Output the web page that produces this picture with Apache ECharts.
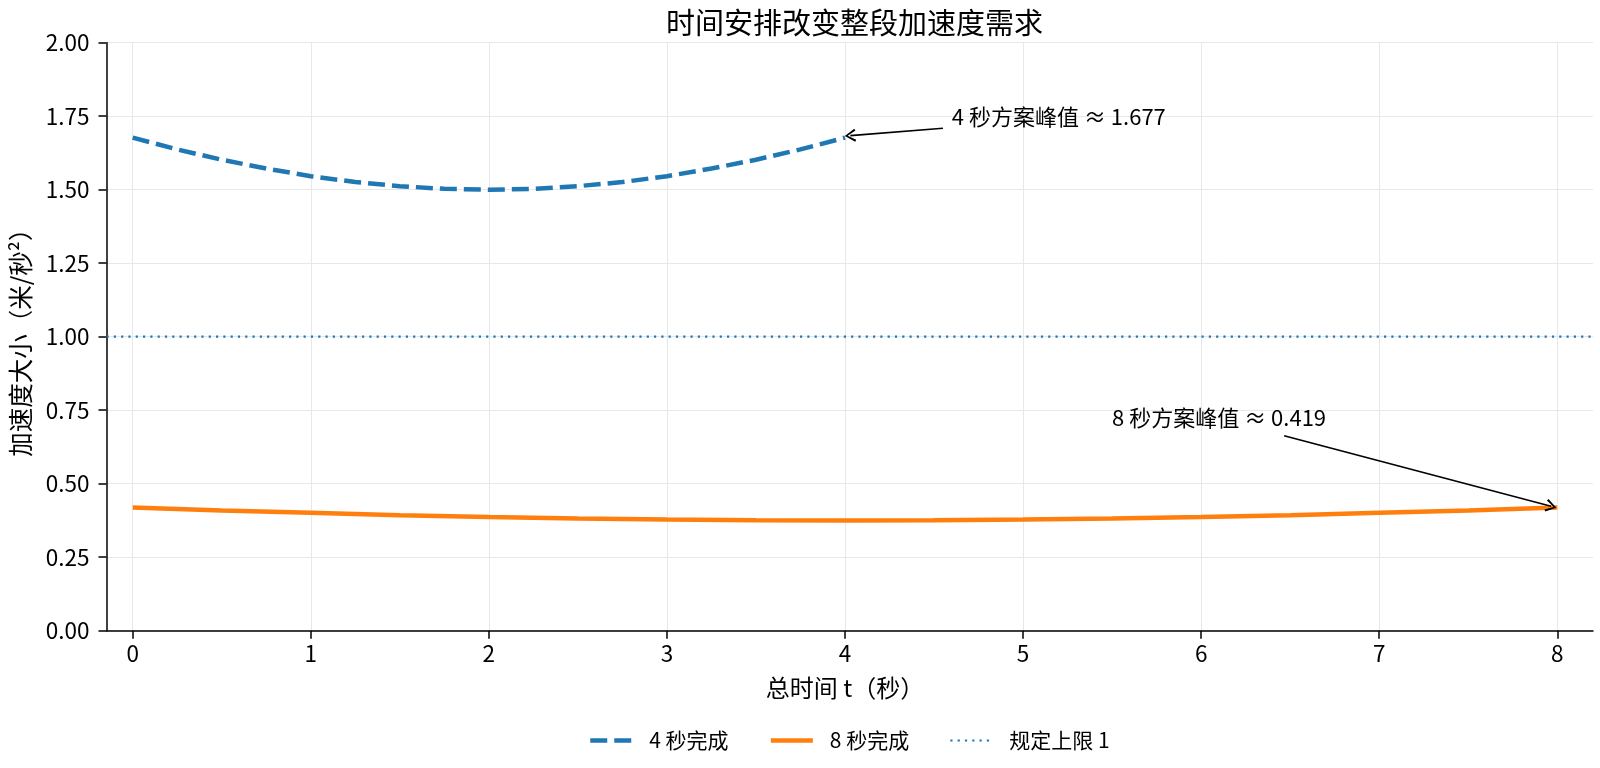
<!DOCTYPE html>
<html lang="zh">
  <head>
    <meta charset="UTF-8" />
    <title>时间安排改变整段加速度需求</title>
    <script src="https://cdn.jsdelivr.net/npm/echarts@6.0.0/dist/echarts.min.js"></script>
    <style>
      body { margin: 0; background: #fff; }
    </style>
  </head>
  <body>
    <div id="main" style="width: 1600px; height: 768px"></div>
    <script type="text/javascript">
      // values
      const t4 = [0, 0.25, 0.5, 0.75, 1, 1.25, 1.5, 1.75, 2, 2.25, 2.5, 2.75, 3, 3.25, 3.5, 3.75, 4];
      const a4 = [1.677, 1.637, 1.602, 1.572, 1.546, 1.526, 1.512, 1.503, 1.5, 1.503, 1.512, 1.526, 1.546, 1.572, 1.602, 1.637, 1.677];
      const t8 = [0, 0.5, 1, 1.5, 2, 2.5, 3, 3.5, 4, 4.5, 5, 5.5, 6, 6.5, 7, 7.5, 8];
      const a8 = [0.419, 0.409, 0.401, 0.393, 0.387, 0.382, 0.378, 0.376, 0.375, 0.376, 0.378, 0.382, 0.387, 0.393, 0.401, 0.409, 0.419];
      const limit = 1;
      const seriesNames = ["4 秒完成", "8 秒完成", "规定上限 1"];
      const peak4 = 1.677;
      const peak8 = 0.419;

      const font = "Noto Sans CJK SC";
      const gridColor = "#e8e8e8";
      const blue = "#1f77b4";
      const orange = "#ff7f0e";

      const style4 = { color: blue, width: 4.5, type: [17, 7] };
      const style8 = { color: orange, width: 4.5, type: "solid" };
      const styleLimit = { color: blue, width: 2.2, type: [2.2, 5.1] };

      const pairs = (xs, ys) => xs.map((x, i) => [x, ys[i]]);
      const chevron = "path://M5,0 L10,9 L8.6,10 L5,2.6 L1.4,10 L0,9 Z";

      let options = {
        animation: false,
        textStyle: { fontFamily: font },
        title: {
          text: "时间安排改变整段加速度需求",
          left: 849.5,
          textAlign: "center",
          top: 3,
          textStyle: { fontFamily: font, fontSize: 29, fontWeight: "normal", color: "#000" },
        },
        legend: {
          data: [
            { name: seriesNames[0], lineStyle: style4 },
            { name: seriesNames[1], lineStyle: style8 },
            { name: seriesNames[2], lineStyle: styleLimit },
          ],
          left: 588,
          top: 730,
          padding: 0,
          itemWidth: 42,
          itemHeight: 20,
          itemGap: 40,
          itemStyle: { opacity: 0 },
          textStyle: { fontFamily: font, fontSize: 21, color: "#000", padding: [0, 0, 0, 12] },
        },
        // grid 0 : the full axes box (spines, y axis, y grid lines)
        // grid 1 : the data range 0..8 on x
        grid: [
          { left: 106, right: 7, top: 42.7, bottom: 137.3 },
          { left: 132.7, right: 42.7, top: 42.7, bottom: 137.3 },
        ],
        xAxis: [
          {
            gridIndex: 0,
            type: "value",
            min: 0,
            max: 1,
            axisLine: { show: true, lineStyle: { color: "#000", width: 1.5 } },
            axisTick: { show: false },
            axisLabel: { show: false },
            splitLine: { show: false },
          },
          {
            gridIndex: 1,
            type: "value",
            min: 0,
            max: 8,
            interval: 1,
            name: "总时间 t（秒）",
            nameLocation: "middle",
            nameGap: 45,
            nameTextStyle: { fontFamily: font, fontSize: 24, color: "#000" },
            axisLine: { show: false },
            axisTick: { show: true, inside: false, length: 8, lineStyle: { color: "#000", width: 1.5 } },
            axisLabel: { fontFamily: font, fontSize: 22.5, color: "#000", margin: 12 },
            splitLine: { show: true, lineStyle: { color: gridColor, width: 1 } },
          },
        ],
        yAxis: [
          {
            gridIndex: 0,
            type: "value",
            min: 0,
            max: 2,
            interval: 0.25,
            name: "加速度大小（米/秒²）",
            nameLocation: "middle",
            nameRotate: 90,
            nameGap: 74,
            nameTextStyle: { fontFamily: font, fontSize: 24.5, color: "#000" },
            axisLine: { show: true, lineStyle: { color: "#000", width: 1.5 } },
            axisTick: { show: true, inside: false, length: 8, lineStyle: { color: "#000", width: 1.5 } },
            axisLabel: {
              fontFamily: font,
              fontSize: 22.5,
              color: "#000",
              margin: 17,
              formatter: (v) => v.toFixed(2),
            },
            splitLine: { show: true, lineStyle: { color: gridColor, width: 1 } },
          },
          {
            gridIndex: 1,
            type: "value",
            min: 0,
            max: 2,
            show: false,
            splitLine: { show: false },
          },
        ],
        series: [
          {
            name: seriesNames[0],
            type: "line",
            xAxisIndex: 1,
            yAxisIndex: 1,
            data: pairs(t4, a4),
            symbol: "none",
            lineStyle: style4,
            itemStyle: { color: blue },
            z: 3,
            markLine: {
              silent: true,
              symbol: ["none", chevron],
              symbolSize: [13, 11],
              label: { show: false },
              lineStyle: { color: "#000", width: 1.6, type: "solid" },
              data: [[{ coord: [4.55, 1.709] }, { coord: [4.03, 1.684] }]],
            },
            markPoint: {
              silent: true,
              symbol: "circle",
              symbolSize: 0,
              label: {
                show: true,
                position: "right",
                distance: 0,
                fontFamily: font,
                fontSize: 22,
                color: "#000",
                formatter: () => "4 秒方案峰值 ≈ " + peak4.toFixed(3),
              },
              data: [{ coord: [4.6, 1.748] }],
            },
          },
          {
            name: seriesNames[1],
            type: "line",
            xAxisIndex: 1,
            yAxisIndex: 1,
            data: pairs(t8, a8),
            symbol: "none",
            lineStyle: style8,
            itemStyle: { color: orange },
            z: 3,
            markLine: {
              silent: true,
              symbol: ["none", chevron],
              symbolSize: [13, 11],
              label: { show: false },
              lineStyle: { color: "#000", width: 1.6, type: "solid" },
              data: [[{ coord: [6.466, 0.663] }, { coord: [7.965, 0.423] }]],
            },
            markPoint: {
              silent: true,
              symbol: "circle",
              symbolSize: 0,
              label: {
                show: true,
                position: "right",
                distance: 0,
                fontFamily: font,
                fontSize: 22,
                color: "#000",
                formatter: () => "8 秒方案峰值 ≈ " + peak8.toFixed(3),
              },
              data: [{ coord: [5.5, 0.726] }],
            },
          },
          {
            name: seriesNames[2],
            type: "line",
            xAxisIndex: 0,
            yAxisIndex: 0,
            data: [[0, limit], [1, limit]],
            symbol: "none",
            lineStyle: styleLimit,
            itemStyle: { color: blue },
            z: 2,
          },
        ],
      };

      let myChart = echarts.init(document.getElementById("main"));
      myChart.setOption(options);
    </script>
  </body>
</html>
